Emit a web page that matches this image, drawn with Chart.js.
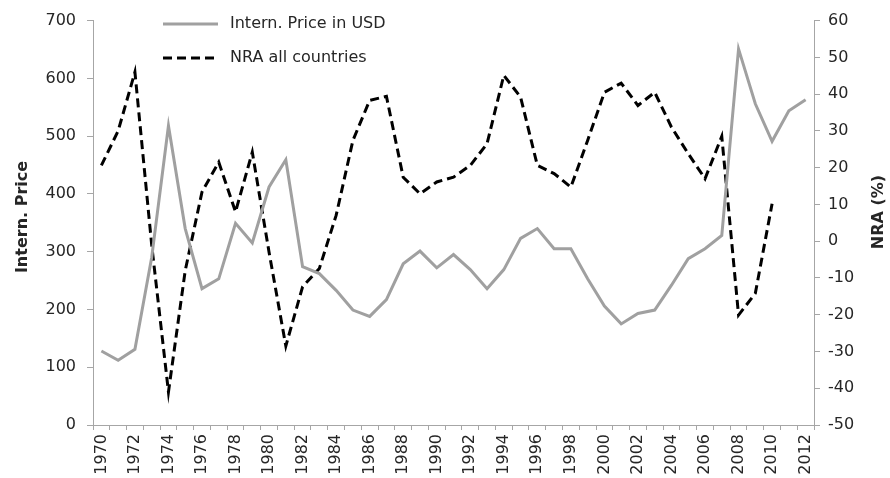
<!DOCTYPE html>
<html>
<head>
<meta charset="utf-8">
<script src="https://cdn.jsdelivr.net/npm/chart.js@4"></script>
<style>
  body { margin: 0; background: #fff; }
</style>
</head>
<body>
<canvas id="graph1" width="890" height="478"></canvas>
<script>
const years = [];
for (let y = 1970; y <= 2012; y++) years.push(String(y));

const priceUsd = [128, 112, 131, 290, 518, 340, 236, 253, 349, 315, 412, 459, 274, 262, 233,
  199, 188, 217, 279, 301, 272, 295, 269, 236, 269, 323, 340, 305, 305, 253,
  206, 175, 193, 199, 242, 288, 305, 328, 651, 556, 491, 544, 563];

const nraAll = [20.6, 30, 46, -1, -41, -8, 13.4, 21.5, 8, 24.2, -3, -28.5, -12.4, -7.4, 7,
  27.4, 38.3, 39.4, 17.4, 12.9, 16.1, 17.4, 20.6, 26.5, 45.1, 39.2, 20.6, 18.4, 14.7, 27.4,
  40.5, 43, 36.9, 40.5, 31, 23.8, 17, 28.5, -20.1, -14.2, 10.2, null, null];

const legendNames = ['Intern. Price in USD', 'NRA all countries'];
const axisTitles = ['Intern. Price', 'NRA (%)'];

const FONT = 'DejaVu Sans, Verdana, sans-serif';
const GREY = '#a0a0a0';
const AXIS = '#a6a6a6';
const TEXT = '#262626';

// legend and axis titles drawn by hand
const extras = {
  id: 'extras',
  afterDraw(chart) {
    const ctx = chart.ctx;
    ctx.save();
    ctx.font = '16px ' + FONT;
    ctx.fillStyle = TEXT;
    ctx.textBaseline = 'middle';
    ctx.lineWidth = 3;
    ctx.strokeStyle = GREY;
    ctx.beginPath(); ctx.moveTo(163, 24); ctx.lineTo(218, 24); ctx.stroke();
    ctx.fillText(legendNames[0], 230, 24);
    ctx.strokeStyle = '#000';
    ctx.setLineDash([9, 5]);
    ctx.beginPath(); ctx.moveTo(163, 58); ctx.lineTo(218, 58); ctx.stroke();
    ctx.setLineDash([]);
    ctx.fillText(legendNames[1], 230, 58);

    ctx.font = 'bold 16px ' + FONT;
    ctx.textAlign = 'center';
    ctx.translate(23, 217);
    ctx.rotate(-Math.PI / 2);
    ctx.fillText(axisTitles[0], 0, 0);
    ctx.restore();
    ctx.save();
    ctx.font = 'bold 16px ' + FONT;
    ctx.fillStyle = TEXT;
    ctx.textAlign = 'center';
    ctx.textBaseline = 'middle';
    ctx.translate(879, 212);
    ctx.rotate(-Math.PI / 2);
    ctx.fillText(axisTitles[1], 0, 0);
    ctx.restore();
  }
};

const graph = new Chart(document.getElementById('graph1'), {
  type: 'line',
  data: {
    labels: years,
    datasets: [{
      label: legendNames[0],
      data: priceUsd,
      yAxisID: 'y',
      borderColor: GREY,
      borderWidth: 3,
      pointRadius: 0,
      tension: 0
    }, {
      label: legendNames[1],
      data: nraAll,
      yAxisID: 'y1',
      borderColor: '#000',
      borderWidth: 3,
      borderDash: [9, 5],
      pointRadius: 0,
      tension: 0,
      spanGaps: false
    }]
  },
  options: {
    responsive: false,
    animation: false,
    layout: { padding: { top: 20, left: 0, right: 0, bottom: 0 } },
    plugins: { legend: { display: false }, tooltip: { enabled: false } },
    scales: {
      x: {
        offset: true,
        grid: { offset: true, drawOnChartArea: false, color: AXIS, tickLength: 5 },
        border: { color: AXIS },
        ticks: {
          autoSkip: false, maxRotation: 90, minRotation: 90, padding: 4,
          color: TEXT, font: { family: FONT, size: 16 },
          callback: function (v, i) { return i % 2 === 0 ? this.getLabelForValue(v) : ''; }
        },
        afterFit(s) { s.height = 53; }
      },
      y: {
        position: 'left', min: 0, max: 700,
        grid: { drawOnChartArea: false, color: AXIS, tickLength: 6 },
        border: { color: AXIS },
        ticks: { stepSize: 100, padding: 11, color: TEXT, font: { family: FONT, size: 16 } },
        afterFit(s) { s.width = 93; }
      },
      y1: {
        position: 'right', min: -50, max: 60,
        grid: { drawOnChartArea: false, color: AXIS, tickLength: 6 },
        border: { color: AXIS },
        ticks: { stepSize: 10, padding: 8, color: TEXT, font: { family: FONT, size: 16 } },
        afterFit(s) { s.width = 76; }
      }
    }
  },
  plugins: [extras]
});
</script>
</body>
</html>
